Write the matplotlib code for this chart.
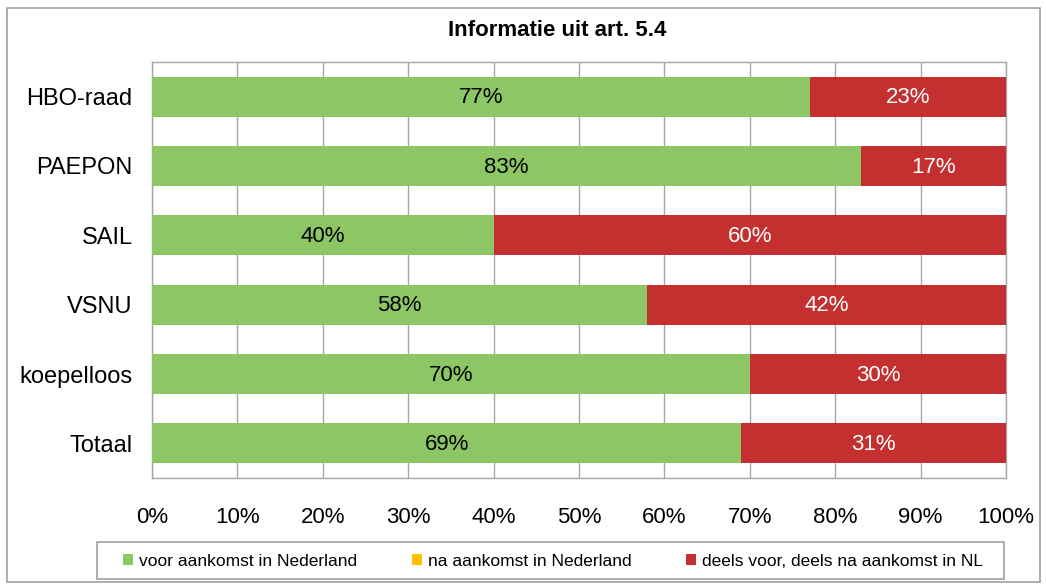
import numpy as np
import matplotlib
matplotlib.use('Agg')
import matplotlib.pyplot as plt
from matplotlib.patches import Rectangle

plt.rcParams['font.family'] = ['Liberation Sans', 'DejaVu Sans']

# data
categories = ['HBO-raad', 'PAEPON', 'SAIL', 'VSNU', 'koepelloos', 'Totaal']
voor = [77, 83, 40, 58, 70, 69]
na = [0, 0, 0, 0, 0, 0]
deels = [23, 17, 60, 42, 30, 31]
series_names = ['voor aankomst in Nederland', 'na aankomst in Nederland',
                'deels voor, deels na aankomst in NL']
colors = ['#8DC765', '#FFC000', '#C3302F']

W, H = 1046, 588
fig = plt.figure(figsize=(W / 100, H / 100), dpi=100)


def box(x0, y0, x1, y1):
    # rectangle in pixel coords (top-left origin)
    fig.patches.append(Rectangle((x0 / W, 1 - y1 / H), (x1 - x0) / W, (y1 - y0) / H,
                                 transform=fig.transFigure, fill=False,
                                 edgecolor='#A0A0A0', linewidth=1.2))


box(7, 8, 1040, 582)     # chart border
box(97, 542, 1004, 579)  # legend border

ax = fig.add_axes([152 / W, 1 - 478 / H, 854 / W, 416 / H])
y = np.arange(len(categories))
h = 0.575
left = np.zeros(len(categories))
for vals, c, name in zip([voor, na, deels], colors, series_names):
    vals = np.array(vals, dtype=float)
    ax.barh(y, vals, left=left, height=h, color=c, label=name, zorder=3)
    for yi, v, l in zip(y, vals, left):
        if v > 0:
            tc = 'black' if c == colors[0] else 'white'
            ax.text(l + v / 2, yi + 0.015, '%d%%' % v, ha='center', va='center',
                    fontsize=16, color=tc, zorder=4)
    left += vals

ax.set_xlim(0, 100)
ax.set_ylim(len(categories) - 0.5, -0.5)
ax.set_yticks(y)
ax.set_yticklabels(categories, fontsize=17)
ax.set_xticks(np.arange(0, 101, 10))
ax.set_xticklabels(['%d%%' % t for t in range(0, 101, 10)], fontsize=16)
ax.tick_params(axis='both', length=0)
ax.tick_params(axis='x', pad=21)
ax.tick_params(axis='y', pad=14)
ax.grid(axis='x', color='#A6A6A6', linewidth=1.0, zorder=0)
for s in ax.spines.values():
    s.set_color('#A6A6A6')
    s.set_linewidth(1.0)

fig.text(557 / W, 1 - 31 / H, 'Informatie uit art. 5.4', ha='center', va='center',
         fontsize=16, fontweight='bold')

leg = fig.legend(loc='center', bbox_to_anchor=(553 / W, 1 - 561 / H), ncol=3,
                 fontsize=12.5, frameon=False, handlelength=0.57,
                 handleheight=0.57, handletextpad=0.35, columnspacing=3.15,
                 borderpad=0.0)

fig.savefig('out.png', dpi=100)
